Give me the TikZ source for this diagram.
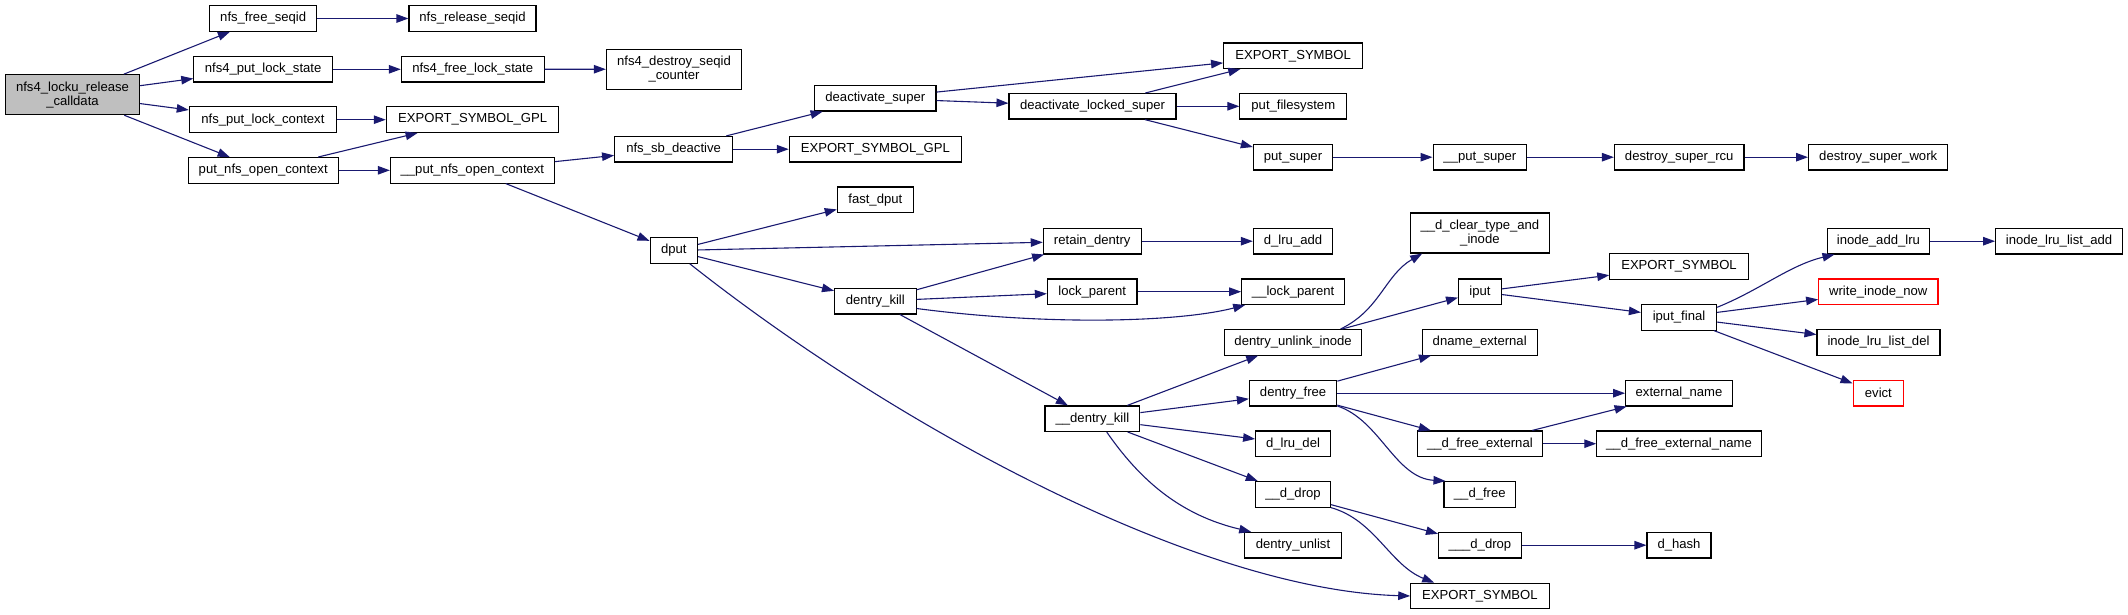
\documentclass[tikz,border=0pt]{standalone}
\usepackage{fontspec}
\setmainfont{Liberation Sans}
\usetikzlibrary{arrows.meta,calc}
\definecolor{edgec}{HTML}{191970}
\definecolor{rootfill}{HTML}{BFBFBF}
\begin{document}
\begin{tikzpicture}[x=1pt,y=-1pt,
 fn/.style={draw=black, line width=1.1pt, fill=white, minimum height=25.5pt, inner sep=0pt, font=\fontsize{13.1}{14}\selectfont, align=center},
 twoline/.style={minimum height=40pt},
 redfn/.style={fn, draw=red},
 rootfn/.style={fn, fill=rootfill},
 arr/.style={draw=edgec, line width=1.1pt, -{Triangle[length=12pt,width=8.5pt]}}]
\useasboundingbox (0,0) rectangle (2128,615);
% nodes
\node[rootfn,twoline,minimum width=134pt] (locku) at (72.5,94.7) {nfs4\_locku\_release\\\_calldata};
\node[fn,minimum width=107pt] (nfsfree) at (263.2,18.5) {nfs\_free\_seqid};
\node[fn,minimum width=127pt] (nfsrel) at (472.5,18.5) {nfs\_release\_seqid};
\node[fn,minimum width=138.6pt] (putls) at (263.1,69.3) {nfs4\_put\_lock\_state};
\node[fn,minimum width=142.7pt] (freels) at (472.7,69.3) {nfs4\_free\_lock\_state};
\node[fn,twoline,minimum width=135.3pt] (destroy) at (674,69.2) {nfs4\_destroy\_seqid\\\_counter};
\node[fn,minimum width=147.2pt] (putlc) at (262.9,119.7) {nfs\_put\_lock\_context};
\node[fn,minimum width=172.6pt] (gpla) at (472.6,119.7) {EXPORT\_SYMBOL\_GPL};
\node[fn,minimum width=150.3pt] (putnoc) at (263.2,170.3) {put\_nfs\_open\_context};
\node[fn,minimum width=164pt] (uputnoc) at (472.4,170.3) {\_\_put\_nfs\_open\_context};
\node[fn,minimum width=118pt] (sbdeact) at (673.6,149.2) {nfs\_sb\_deactive};
\node[fn,minimum width=47.5pt] (dput) at (673.8,250.5) {dput};
\node[fn,minimum width=121.4pt] (deacts) at (875.3,98.3) {deactivate\_super};
\node[fn,minimum width=172pt] (gplb) at (875.3,149.2) {EXPORT\_SYMBOL\_GPL};
\node[fn,minimum width=139pt] (esa) at (1293.1,55.8) {EXPORT\_SYMBOL};
\node[fn,minimum width=167pt] (deactl) at (1092.5,106.3) {deactivate\_locked\_super};
\node[fn,minimum width=106.8pt] (putfs) at (1293.3,106.3) {put\_filesystem};
\node[fn,minimum width=79.3pt] (puts) at (1293,157.2) {put\_super};
\node[fn,minimum width=93.7pt] (uputs) at (1479.9,157.2) {\_\_put\_super};
\node[fn,minimum width=129.5pt] (dsrcu) at (1679.2,157.2) {destroy\_super\_rcu};
\node[fn,minimum width=139.3pt] (dswork) at (1878.2,157.2) {destroy\_super\_work};
\node[fn,minimum width=76pt] (fastdput) at (875.3,199.7) {fast\_dput};
\node[fn,minimum width=97.8pt] (retain) at (1092.2,241.2) {retain\_dentry};
\node[fn,minimum width=79.3pt] (lruadd) at (1293,241.2) {d\_lru\_add};
\node[fn,minimum width=89.6pt] (lockp) at (1092.2,291.7) {lock\_parent};
\node[fn,minimum width=102.8pt] (ulockp) at (1293.1,291.7) {\_\_lock\_parent};
\node[fn,minimum width=81.5pt] (dkill) at (875.3,301.2) {dentry\_kill};
\node[fn,twoline,minimum width=138.3pt] (dclear) at (1479.9,233) {\_\_d\_clear\_type\_and\\\_inode};
\node[fn,minimum width=102.7pt] (ialru) at (1878.4,241.2) {inode\_add\_lru};
\node[fn,minimum width=126.8pt] (ilruadd) at (2059,241.2) {inode\_lru\_list\_add};
\node[fn,minimum width=138.4pt] (esb) at (1679,266.3) {EXPORT\_SYMBOL};
\node[fn,minimum width=42.7pt] (iput) at (1479.9,291.7) {iput};
\node[redfn,minimum width=119.3pt] (wrin) at (1878.3,291.7) {write\_inode\_now};
\node[fn,minimum width=75.2pt] (ifinal) at (1679,317.3) {iput\_final};
\node[fn,minimum width=137.2pt] (dunlink) at (1293.1,342.3) {dentry\_unlink\_inode};
\node[fn,minimum width=114.7pt] (dnext) at (1479.7,342.3) {dname\_external};
\node[fn,minimum width=123pt] (ilrudel) at (1878.5,342.3) {inode\_lru\_list\_del};
\node[fn,minimum width=87.4pt] (dfree) at (1293.1,393.2) {dentry\_free};
\node[fn,minimum width=106.8pt] (extname) at (1679,393.2) {external\_name};
\node[redfn,minimum width=50.7pt] (evict) at (1878.4,393.2) {evict};
\node[fn,minimum width=94.8pt] (udkill) at (1092.4,418.7) {\_\_dentry\_kill};
\node[fn,minimum width=74.7pt] (lrudel) at (1293,443.7) {d\_lru\_del};
\node[fn,minimum width=125.3pt] (dfext) at (1479.9,443.7) {\_\_d\_free\_external};
\node[fn,minimum width=164.4pt] (dfextname) at (1679,443.7) {\_\_d\_free\_external\_name};
\node[fn,minimum width=74.7pt] (uddrop) at (1293,494.3) {\_\_d\_drop};
\node[fn,minimum width=71.6pt] (udfree) at (1479.8,494.3) {\_\_d\_free};
\node[fn,minimum width=96.5pt] (dunlist) at (1293,545.2) {dentry\_unlist};
\node[fn,minimum width=82.7pt] (uuddrop) at (1479.9,545.2) {\_\_\_d\_drop};
\node[fn,minimum width=64pt] (dhash) at (1679,545.2) {d\_hash};
\node[fn,minimum width=138.3pt] (esc) at (1479.9,596) {EXPORT\_SYMBOL};
% edges
\draw[arr] (locku) -- (nfsfree);
\draw[arr] (locku) -- (putls);
\draw[arr] (locku) -- (putlc);
\draw[arr] (locku) -- (putnoc);
\draw[arr] (nfsfree) -- (nfsrel);
\draw[arr] (putls) -- (freels);
\draw[arr] (freels) -- (destroy);
\draw[arr] (putlc) -- (gpla);
\draw[arr] (putnoc) -- (gpla);
\draw[arr] (putnoc) -- (uputnoc);
\draw[arr] (uputnoc) -- (sbdeact);
\draw[arr] (uputnoc) -- (dput);
\draw[arr] (sbdeact) -- (deacts);
\draw[arr] (sbdeact) -- (gplb);
\draw[arr] (deacts) -- (esa);
\draw[arr] (deacts) -- (deactl);
\draw[arr] (deactl) -- (esa);
\draw[arr] (deactl) -- (putfs);
\draw[arr] (deactl) -- (puts);
\draw[arr] (puts) -- (uputs);
\draw[arr] (uputs) -- (dsrcu);
\draw[arr] (dsrcu) -- (dswork);
\draw[arr] (dput) -- (fastdput);
\draw[arr] (dput) -- (retain);
\draw[arr] (dput) -- (dkill);
\draw[arr] ($(dput.south)+(16,0)$) .. controls (900,430) and (1200,590) .. (esc.west);
\draw[arr] (retain) -- (lruadd);
\draw[arr] (dkill) -- (retain);
\draw[arr] (dkill) -- (lockp);
\draw[arr] ($(dkill.east)+(0,7.3)$) .. controls (1050,326) and (1180,322) .. ($(ulockp.south west)+(4,0)$);
\draw[arr] (dkill) -- (udkill);
\draw[arr] (lockp) -- (ulockp);
\draw[arr] (udkill) -- (dunlink);
\draw[arr] (udkill) -- (dfree);
\draw[arr] (udkill) -- (lrudel);
\draw[arr] (udkill) -- (uddrop);
\draw[arr] ($(udkill.south)+(14.3,0)$) .. controls (1140,480) and (1180,515) .. ($(dunlist.north west)+(7,0)$);
\draw[arr] ($(dunlink.north east)+(-21.7,0)$) .. controls (1380,310) and (1385,275) .. ($(dclear.south west)+(12,0)$);
\draw[arr] (dunlink) -- (iput);
\draw[arr] (iput) -- (esb);
\draw[arr] (iput) -- (ifinal);
\draw[arr] ($(ifinal.east)+(0,-10)$) .. controls (1760,290) and (1790,265) .. ($(ialru.south west)+(8,0)$);
\draw[arr] (ifinal) -- (wrin);
\draw[arr] (ifinal) -- (ilrudel);
\draw[arr] (ifinal) -- (evict);
\draw[arr] (ialru) -- (ilruadd);
\draw[arr] (dfree) -- (dnext);
\draw[arr] (dfree) -- (extname);
\draw[arr] (dfree) -- (dfext);
\draw[arr] ($(dfree.south east)+(0,-0.5)$) .. controls (1380,420) and (1395,478) .. ($(udfree.north west)+(2,0)$);
\draw[arr] (dfext) -- (extname);
\draw[arr] (dfext) -- (dfextname);
\draw[arr] (uddrop) -- (uuddrop);
\draw[arr] (uddrop.south east) .. controls (1375,520) and (1390,565) .. ($(esc.north west)+(24,0)$);
\draw[arr] (uuddrop) -- (dhash);
\end{tikzpicture}
\end{document}
